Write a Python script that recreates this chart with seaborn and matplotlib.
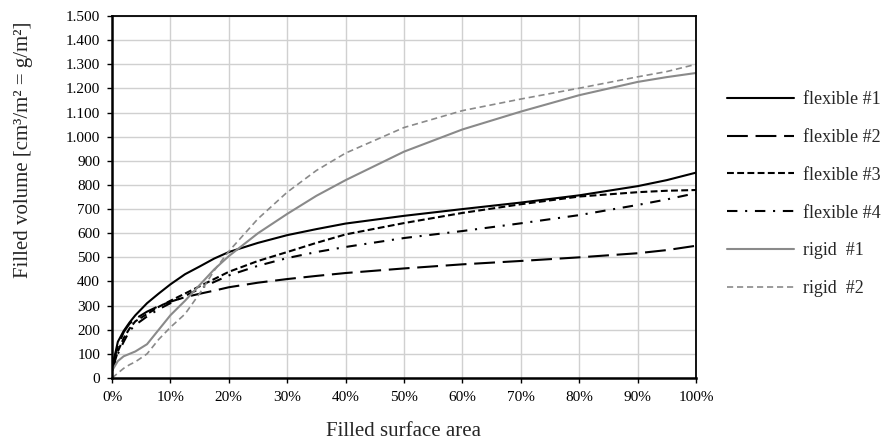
import pandas as pd
import seaborn as sns
import matplotlib.pyplot as plt
from matplotlib.ticker import FuncFormatter, MultipleLocator

# Filled surface area in %, volume in cm3/m2
area = [0, 1, 2, 3, 4, 6, 8, 10, 12.5, 15, 17.5, 20, 25, 30, 35, 40, 50, 60, 70, 80, 90, 95, 100]

flexible_1 = [40, 150, 195, 230, 260, 310, 350, 388, 430, 462, 495, 522, 560, 592, 617, 640, 672, 700, 727, 757, 795, 820, 851]
flexible_2 = [50, 130, 190, 225, 245, 275, 298, 316, 335, 349, 362, 376, 395, 410, 423, 435, 454, 471, 485, 500, 517, 530, 548]
flexible_3 = [30, 110, 165, 205, 235, 265, 295, 320, 350, 380, 410, 440, 485, 522, 560, 595, 642, 684, 720, 752, 770, 776, 779]
flexible_4 = [30, 100, 150, 195, 220, 255, 285, 310, 340, 370, 398, 425, 465, 497, 522, 543, 580, 609, 641, 675, 717, 740, 766]
rigid_1 = [30, 70, 90, 100, 110, 140, 200, 260, 320, 385, 450, 505, 600, 680, 755, 820, 938, 1030, 1104, 1172, 1227, 1247, 1264]
rigid_2 = [0, 20, 40, 55, 67, 100, 160, 210, 265, 350, 445, 525, 660, 770, 860, 932, 1038, 1108, 1156, 1201, 1248, 1270, 1300]

series_names = ["flexible #1", "flexible #2", "flexible #3", "flexible #4", "rigid  #1", "rigid  #2"]
series_values = [flexible_1, flexible_2, flexible_3, flexible_4, rigid_1, rigid_2]

# line styles for each series (colour, dash pattern, width)
styles = {
    "flexible #1": ("black", None, 1.5),
    "flexible #2": ("black", (0, (10, 3.7)), 1.5),
    "flexible #3": ("black", (0, (3.3, 1.6)), 1.5),
    "flexible #4": ("black", (0, (5, 3.7, 1, 3.7)), 1.5),
    "rigid  #1": ("#8a8a8a", None, 1.5),
    "rigid  #2": ("#8a8a8a", (0, (3.7, 2.3)), 1.2),
}

rows = []
for name, vals in zip(series_names, series_values):
    for a, v in zip(area, vals):
        rows.append({"area": a, "volume": v, "serie": name})
df = pd.DataFrame(rows)

sns.set_theme(style="white")
plt.rcParams['font.family'] = ['Liberation Serif', 'DejaVu Serif']

fig = plt.figure(figsize=(8.84, 4.46), dpi=100)
ax = fig.add_axes([0.1267, 0.1525, 0.6606, 0.8115])

for name in series_names:
    color, ls, lw = styles[name]
    sub = df[df["serie"] == name]
    kw = {}
    if ls is not None:
        kw["linestyle"] = ls
    sns.lineplot(data=sub, x="area", y="volume", ax=ax, color=color, linewidth=lw,
                 label=name, estimator=None, sort=False, **kw)

ax.set_xlim(0, 100)
ax.set_ylim(0, 1500)
ax.xaxis.set_major_locator(MultipleLocator(10))
ax.yaxis.set_major_locator(MultipleLocator(100))
ax.xaxis.set_major_formatter(FuncFormatter(lambda v, p: f"{int(round(v))}%"))
ax.yaxis.set_major_formatter(FuncFormatter(lambda v, p: f"{int(round(v)):,}".replace(",", ".")))
ax.grid(True, color="#d0d0d0", linewidth=1.0)
ax.set_axisbelow(True)

for side in ["top", "right"]:
    ax.spines[side].set_color("black")
    ax.spines[side].set_linewidth(1.3)
for side in ["left", "bottom"]:
    ax.spines[side].set_color("black")
    ax.spines[side].set_linewidth(1.8)

ax.tick_params(axis="both", direction="out", length=3.6, width=1.0, colors="black",
               labelsize=11, left=True, bottom=True)
ax.tick_params(axis="y", pad=5)
ax.tick_params(axis="x", pad=6)

ax.set_xlabel("Filled surface area", fontsize=15)
ax.set_ylabel("Filled volume [cm³/m² = g/m²]", fontsize=15)
ax.xaxis.set_label_coords(0.5, -0.122)
ax.yaxis.set_label_coords(-0.135, 0.63)

ax.legend(loc="center left", bbox_to_anchor=(1.053, 0.508), frameon=False,
          fontsize=13, handlelength=3.7, labelspacing=1.15, borderaxespad=0,
          borderpad=0, handletextpad=0.5)

fig.savefig("out.png", dpi=100)
